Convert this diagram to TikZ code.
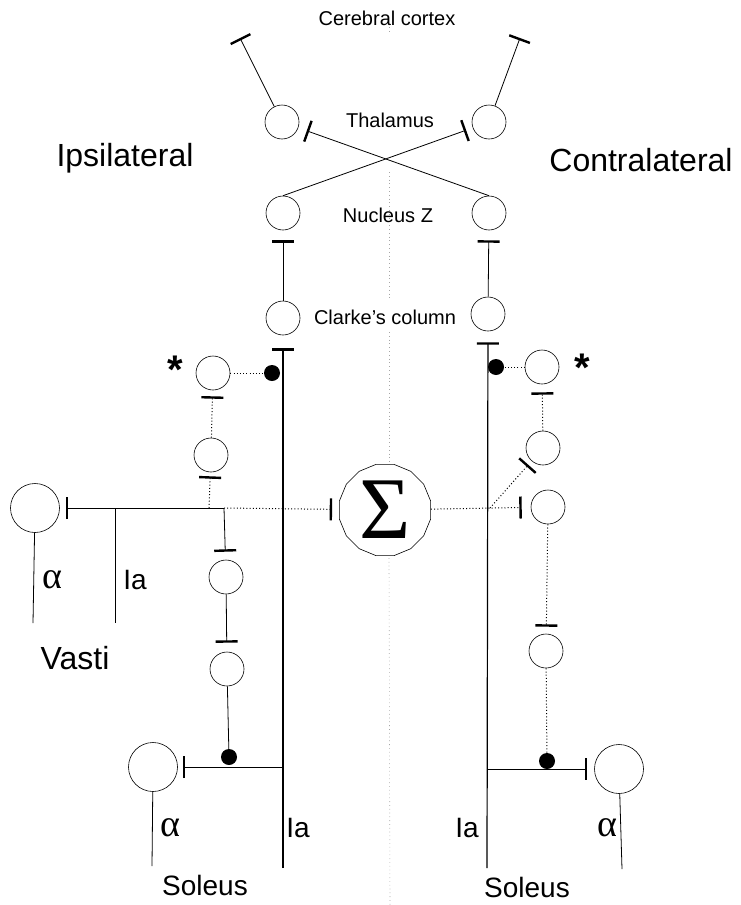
\documentclass[tikz,border=0pt]{standalone}
\usepackage{fontspec}
\setmainfont{Liberation Sans}
\newfontfamily\serifgr{Liberation Serif}
\usetikzlibrary{arrows.meta,shapes.geometric}
\begin{document}
\begin{tikzpicture}[x=1pt,y=-1pt,
  neuron/.style={draw, circle, minimum size=34pt, inner sep=0pt, line width=0.6pt},
  mneuron/.style={draw, circle, minimum size=49pt, inner sep=0pt, line width=0.6pt},
  syn/.style={fill, circle, minimum size=16pt, inner sep=0pt},
  axon/.style={line width=0.8pt},
  iaax/.style={line width=1.2pt},
  dotax/.style={line width=1pt, dash pattern=on 1pt off 2.2pt},
  tee/.style={-{Bar[width=22pt,line width=2.4pt]}},
  small/.style={font=\fontsize{20}{22}\selectfont},
  big/.style={font=\fontsize{32}{36}\selectfont},
  mid/.style={font=\fontsize{28}{32}\selectfont},
  greek/.style={font=\serifgr\fontsize{38}{40}\selectfont},
  star/.style={font=\bfseries\fontsize{40}{40}\selectfont},
  midline/.style={gray!70, line width=0.6pt, dash pattern=on 0.8pt off 3pt}
]
\useasboundingbox (0,0) rectangle (741,905);

% midline
\draw[midline] (389,27) -- (389,32);
\draw[midline] (389,172) -- (389,300);
\draw[midline] (389,332) -- (389,462);
\draw[midline] (389,558) -- (390,905);

% labels
\node[small] (tcc) at (387,18) {Cerebral cortex};
\node[small] (tth) at (390,120) {Thalamus};
\node[small] (tnz) at (388,215) {Nucleus Z};
\node[small] (tcl) at (385,317) {Clarke's column};
\node[big] (tip) at (125,158) {Ipsilateral};
\node[big] (tco) at (641,160) {Contralateral};
\node[big] (tva) at (75,658) {Vasti};
\node[greek] (tav) at (52,580) {α};
\node[mid] (tiv) at (135,580) {Ia};
\node[greek] (tas) at (170,828) {α};
\node[mid] (tis) at (298,828) {Ia};
\node[mid] (tir) at (467,828) {Ia};
\node[greek] (tar) at (607,828) {α};
\node[mid] (tsl) at (205,885) {Soleus};
\node[mid] (tsr) at (527,887) {Soleus};
\node[star] (stL) at (175,370) {*};
\node[star] (stR) at (582,368) {*};

% neurons
\node[neuron] (thalL) at (282,122) {};
\node[neuron] (thalR) at (489,122) {};
\node[neuron] (nzL) at (283,213) {};
\node[neuron] (nzR) at (489,213) {};
\node[neuron] (clarkeL) at (283,318) {};
\node[neuron] (clarkeR) at (488,314) {};
\node[neuron] (s1L) at (213,373) {};
\node[neuron] (s2L) at (211,455) {};
\node[neuron] (i1L) at (226,577) {};
\node[neuron] (i2L) at (227,669) {};
\node[neuron] (s1R) at (542,367) {};
\node[neuron] (s2R) at (543,448) {};
\node[neuron] (i1R) at (548,507) {};
\node[neuron] (i2R) at (546,651) {};
\node[mneuron] (vastiA) at (35,508) {};
\node[mneuron] (solL) at (153,767) {};
\node[mneuron] (solR) at (619,769) {};
\node[draw, regular polygon, regular polygon sides=16, minimum size=93pt, inner sep=0pt,
      line width=0.6pt, font=\serifgr\fontsize{88}{88}\selectfont] (sig) at (385,510) {Σ};
\node[syn] (dL) at (272,373) {};
\node[syn] (dR) at (496,367) {};
\node[syn] (dBL) at (229,757) {};
\node[syn] (dBR) at (547,761) {};

% free ends
\coordinate (ctxL) at (240,38);
\coordinate (ctxR) at (520,38);
\coordinate (iaLb) at (283,868);
\coordinate (iaRb) at (487,868);
\coordinate (jL) at (209,508);
\coordinate (jE) at (224,508);
\coordinate (vIaT) at (115,508);
\coordinate (vIaB) at (115,623);
\coordinate (vAB) at (33,623);
\coordinate (hL) at (283,767);
\coordinate (solLb) at (152,866);
\coordinate (jR) at (490,508);
\coordinate (hR) at (487,769);
\coordinate (solRb) at (622,869);

% ascending pathway
\draw[axon,tee] (thalL) -- (ctxL);
\draw[axon,tee] (thalR) -- (ctxR);
\draw[axon,tee,shorten >=7pt] (nzL.north) -- (thalR);
\draw[axon,tee,shorten >=9pt] (nzR.north) -- (thalL);
\draw[axon,tee,shorten >=10pt] (clarkeL) -- (nzL);
\draw[axon,tee,shorten >=10pt] (clarkeR) -- (nzR);
\draw[iaax,tee,shorten >=13pt] (iaLb) -- (clarkeL);
\draw[iaax,tee,shorten >=11pt] (iaRb) -- (clarkeR);

% ipsilateral interneurons
\draw[dotax] (s1L) -- (dL);
\draw[dotax,tee,shorten >=6pt] (s2L) -- (s1L);
\draw[dotax,tee,shorten >=4pt] (jL) -- (s2L);
\draw[axon,tee,shorten >=6pt] (jE) -- (vastiA);
\draw[axon] (vIaT) -- (vIaB);
\draw[axon] (vastiA) -- (vAB);
\draw[dotax,tee,shorten >=7pt] (jE) -- (sig);
\draw[axon,tee,shorten >=8pt] (jE) -- (i1L);
\draw[axon,tee,shorten >=9pt] (i1L) -- (i2L);
\draw[axon] (i2L) -- (dBL);
\draw[axon,tee,shorten >=5pt] (hL) -- (solL);
\draw[axon] (solL) -- (solLb);

% contralateral interneurons
\draw[dotax] (s1R) -- (dR);
\draw[dotax,tee,shorten >=8pt] (s2R) -- (s1R);
\draw[dotax,tee,shorten >=5pt] (jR) -- (s2R);
\draw[dotax,tee,shorten >=9pt] (sig) -- (i1R);
\draw[dotax,tee,shorten >=7pt] (i1R) -- (i2R);
\draw[dotax] (i2R) -- (dBR);
\draw[axon,tee,shorten >=7pt] (hR) -- (solR);
\draw[axon] (solR) -- (solRb);
\end{tikzpicture}
\end{document}
